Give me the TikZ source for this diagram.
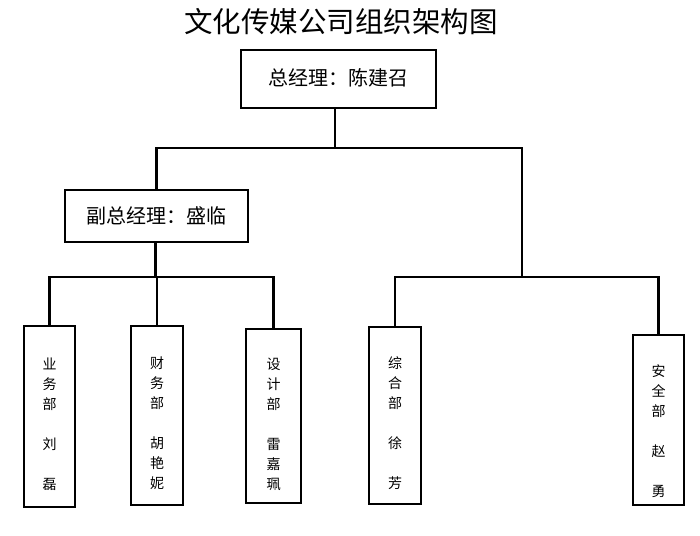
\documentclass[tikz,border=0pt]{standalone}
\usepackage{fontspec}
\newfontfamily\cjk{Noto Sans CJK SC}
\begin{document}
\begin{tikzpicture}[x=1pt,y=-1pt,
  box/.style={draw,line width=1.3pt,inner sep=0pt,font=\cjk\fontsize{20}{20}\selectfont},
  dept/.style={draw,line width=1.3pt,inner sep=0pt,align=center,font=\cjk\fontsize{14}{20}\selectfont},
  link/.style={line width=2.2pt}]
\useasboundingbox (0,0) rectangle (700,535);

\node (title) at (341,22) {\cjk\fontsize{28.5}{28.5}\selectfont 文化传媒公司组织架构图};

\node[box,minimum width=195pt,minimum height=58pt] (gm) at (338.5,79) {\raisebox{4pt}{总经理：陈建召}};
\node[box,minimum width=183pt,minimum height=52pt] (vgm) at (156.5,216) {副总经理：盛临};

\node[dept,minimum width=51pt,minimum height=181pt] (yewu) at (49.5,416.5)
  {\rule{0pt}{28pt}业\\务\\部\\[20pt]刘\\[20pt]磊};
\node[dept,minimum width=52pt,minimum height=179pt] (caiwu) at (157,415.5)
  {\rule{0pt}{28pt}财\\务\\部\\[20pt]胡\\艳\\妮};
\node[dept,minimum width=55pt,minimum height=174pt] (sheji) at (273.5,416)
  {\rule{0pt}{28pt}设\\计\\部\\[20pt]雷\\嘉\\珮};
\node[dept,minimum width=52pt,minimum height=177pt] (zonghe) at (395,415.5)
  {\rule{0pt}{28pt}综\\合\\部\\[20pt]徐\\[20pt]芳};
\node[dept,minimum width=51pt,minimum height=170pt] (anquan) at (658.5,420)
  {\rule{0pt}{34pt}安\\全\\部\\[20pt]赵\\[20pt]勇};

% bus lines
\coordinate (top) at (335,148);
\coordinate (left) at (155.5,277);
\coordinate (right) at (522,277);

\draw[link] (top |- gm.south) -- (top);
\draw[link] (vgm.north) |- (right |- top) -- (right);

\draw[link] (vgm.south -| left) -- (left);
\draw[link] (yewu.north) |- (sheji.north |- left) -- (sheji.north);
\draw[link] (caiwu.north) -- (caiwu.north |- left);

\draw[link] (zonghe.north) |- (anquan.north |- right) -- (anquan.north);

\end{tikzpicture}
\end{document}
